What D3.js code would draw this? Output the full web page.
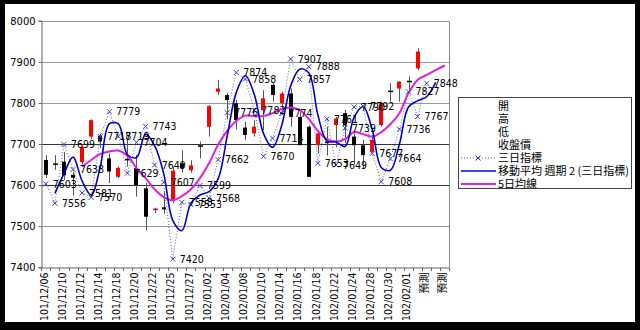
<!DOCTYPE html>
<html><head><meta charset="utf-8">
<script src="https://cdn.jsdelivr.net/npm/d3@7/dist/d3.min.js"></script>
<style>
body{margin:0;background:#000;}
svg{display:block}
</style></head><body>
<svg id="c" width="640" height="330"></svg>
<script>
const categories = ["101/12/06","101/12/07","101/12/10","101/12/11","101/12/12","101/12/13","101/12/14","101/12/17","101/12/18","101/12/19","101/12/20","101/12/21","101/12/22","101/12/24","101/12/25","101/12/26","101/12/27","101/12/28","102/01/02","102/01/03","102/01/04","102/01/07","102/01/08","102/01/09","102/01/10","102/01/11","102/01/14","102/01/15","102/01/16","102/01/17","102/01/18","102/01/21","102/01/22","102/01/23","102/01/24","102/01/25","102/01/28","102/01/29","102/01/30","102/01/31","102/02/01","102/02/04","預測","預測","預測"];
const yTicks = [7400,7500,7600,7700,7800,7900,8000];
const openV  = [7661,7651,7657,7625,7656,7718,7720,7665,7620,7662,7641,7592,7538,7546,7563,7653,7636,7695,7742,7827,7819,7799,7740,7726,7782,7844,7799,7823,7766,7742,7697,7706,7746,7775,7718,7697,7681,7746,7828,7835,7852,7884];
const highV  = [7673,7673,7681,7632,7695,7760,7725,7677,7645,7710,7673,7605,7545,7585,7645,7685,7660,7706,7795,7856,7823,7807,7754,7758,7831,7848,7827,7835,7779,7745,7734,7742,7766,7783,7726,7710,7722,7803,7848,7852,7864,7933];
const lowV   = [7617,7637,7612,7575,7650,7712,7690,7605,7617,7645,7572,7490,7532,7530,7556,7630,7630,7665,7718,7819,7760,7735,7709,7718,7734,7803,7783,7742,7697,7620,7677,7672,7692,7702,7650,7640,7680,7742,7803,7803,7827,7880];
const closeV = [7625,7648,7624,7618,7693,7758,7706,7633,7642,7660,7600,7523,7541,7541,7635,7641,7648,7693,7792,7835,7807,7758,7722,7742,7811,7819,7823,7766,7697,7620,7726,7702,7762,7745,7697,7673,7710,7799,7826,7852,7849,7925];
const index3 = [7603,7556,7699,7638,7581,7570,7718,7779,7719,7629,7704,7743,7649,7607,7420,7558,7553,7599,7568,7662,7776,7874,7858,7782,7670,7714,7774,7907,7857,7888,7653,7761,7649,7739,7790,7792,7677,7608,7664,7736,7827,7767,7848];
const ma2 = [null,7580,7628,7668,7610,7576,7644,7749,7749,7674,7667,7724,7696,7628,7514,7489,7556,7576,7584,7615,7719,7825,7866,7820,7726,7692,7744,7841,7882,7873,7771,7707,7705,7694,7765,7791,7735,7643,7636,7700,7790,7805,7815,7850];
const ma5 = [null,null,null,null,7645,7661,7676,7682,7684,7671,7642,7617,7590,7571,7563,7573,7590,7617,7653,7698,7732,7756,7769,7768,7768,7775,7785,7789,7783,7761,7732,7712,7706,7712,7729,7724,7718,7729,7748,7775,7824,7856,7868,7880,7891];
const legendNames = ["開","高","低","收盤價","三日指標","移動平均 週期 2 (三日指標)","5日均線"];

const svg = d3.select("#c");
svg.append("rect").attr("x",5).attr("y",4).attr("width",630).attr("height",318).attr("fill","#fff");

const x = d3.scaleBand().domain(d3.range(categories.length)).range([41.3,449.3]).padding(0);
const y = d3.scaleLinear().domain([7400,8000]).range([267.3,20.7]);
const cx = i => x(i) + x.bandwidth()/2;
const numFont = "'Liberation Sans Narrow','Arial Narrow','DejaVu Sans Condensed',sans-serif";
const cjkFont = "'Noto Sans CJK TC','Noto Sans CJK SC',sans-serif";

// gridlines
svg.append("g").selectAll("line").data(yTicks.filter(d=>d>7400)).join("line")
  .attr("x1",41.3).attr("x2",449.3).attr("y1",d=>Math.round(y(d))+0.5).attr("y2",d=>Math.round(y(d))+0.5)
  .attr("stroke",d=>(d===7600||d===7700)?"#333":"#999").attr("stroke-width",1);
// right border
svg.append("line").attr("x1",449.5).attr("x2",449.5).attr("y1",Math.round(y(8000))+0.5).attr("y2",267.5).attr("stroke","#888");

// y axis
const ya = svg.append("g").attr("transform","translate(41.5,0)")
  .call(d3.axisLeft(y).tickValues(yTicks).tickSize(3).tickPadding(4).tickFormat(d3.format("d")));
ya.select(".domain").attr("stroke","#666");
ya.selectAll(".tick line").attr("stroke","#666");
ya.selectAll("text").attr("font-family",numFont).attr("font-size",11).attr("fill","#000").attr("x",-6);

// x axis
const xa = svg.append("g").attr("transform","translate(0,267.5)")
  .call(d3.axisBottom(x).tickValues(d3.range(0,categories.length,2)).tickSize(0).tickFormat(i=>categories[i]));
xa.select(".domain").attr("stroke","#666");
xa.selectAll("text").attr("transform","rotate(-90)").attr("text-anchor","end")
  .attr("x",-5).attr("y",-2).attr("dy","0.35em").attr("font-size",10.5).attr("fill","#000")
  .attr("font-family",(d)=>categories[d]==="預測"?cjkFont:numFont);
// boundary tick marks
svg.append("g").selectAll("line").data(d3.range(categories.length+1)).join("line")
  .attr("x1",i=>Math.round(41.3+i*x.bandwidth())+0.5).attr("x2",i=>Math.round(41.3+i*x.bandwidth())+0.5)
  .attr("y1",267.5).attr("y2",271).attr("stroke","#666");

// candles
const cd = svg.append("g");
openV.forEach((o,i)=>{
  const c = closeV[i], h = highV[i], l = lowV[i];
  const xc = Math.round(cx(i))+0.5;
  const up = c>o;
  cd.append("line").attr("x1",xc).attr("x2",xc).attr("y1",y(h)).attr("y2",y(l)).attr("stroke","#555").attr("stroke-width",1);
  const top = y(Math.max(o,c)), bot = y(Math.min(o,c));
  if (bot-top < 1.5) {
    cd.append("line").attr("x1",xc-2.5).attr("x2",xc+2.5).attr("y1",top).attr("y2",top).attr("stroke",up?"#f00":"#000").attr("stroke-width",1.5);
  } else {
    cd.append("rect").attr("x",xc-2.5).attr("width",4).attr("y",top).attr("height",bot-top).attr("fill",up?"#f00":"#000");
  }
});

// 5-day MA
svg.append("path").datum(ma5.map((v,i)=>[i,v]).filter(d=>d[1]!=null))
  .attr("d",d3.line().x(d=>cx(d[0])).y(d=>y(d[1])).curve(d3.curveCatmullRom))
  .attr("fill","none").attr("stroke","#e020e0").attr("stroke-width",2);

// three-day index dotted
const pts3 = index3.map((v,i)=>[i,v]);
svg.append("path").datum(pts3)
  .attr("d",d3.line().x(d=>cx(d[0])).y(d=>y(d[1])))
  .attr("fill","none").attr("stroke","#5a5ae0").attr("stroke-width",1).attr("stroke-dasharray","1,2");

// MA2 blue
svg.append("path").datum(ma2.map((v,i)=>[i,v]).filter(d=>d[1]!=null))
  .attr("d",d3.line().x(d=>cx(d[0])).y(d=>y(d[1])).curve(d3.curveCatmullRom))
  .attr("fill","none").attr("stroke","#0000d0").attr("stroke-width",1.6);

// markers
const mk = svg.append("g");
pts3.forEach(d=>{
  const px = cx(d[0]), py = y(d[1]);
  mk.append("path").attr("d",`M${px-2.5},${py-2.5}L${px+2.5},${py+2.5}M${px-2.5},${py+2.5}L${px+2.5},${py-2.5}`)
    .attr("stroke","#3a3ad0").attr("stroke-width",1);
});
// labels
svg.append("g").selectAll("text").data(pts3).join("text")
  .attr("x",d=>cx(d[0])+7).attr("y",d=>y(d[1])).attr("dy","0.35em")
  .attr("font-family",numFont).attr("font-size",10.5).attr("fill","#000")
  .text(d=>d[1]);

// legend
const lg = svg.append("g");
lg.append("rect").attr("x",458.5).attr("y",97.5).attr("width",173).attr("height",91).attr("fill","#fff").attr("stroke","#444");
legendNames.forEach((n,k)=>{
  const ly = 106 + k*13;
  lg.append("text").attr("x",498).attr("y",ly).attr("dy","0.35em").attr("font-family",cjkFont).attr("font-size",11).attr("fill","#000").text(n);
  if (k===4) {
    lg.append("line").attr("x1",461).attr("x2",496).attr("y1",ly).attr("y2",ly).attr("stroke","#5a5ae0").attr("stroke-dasharray","1,2");
    lg.append("path").attr("d",`M${478-2.5},${ly-2.5}L${478+2.5},${ly+2.5}M${478-2.5},${ly+2.5}L${478+2.5},${ly-2.5}`).attr("stroke","#3a3ad0");
  } else if (k===5) {
    lg.append("line").attr("x1",461).attr("x2",496).attr("y1",ly).attr("y2",ly).attr("stroke","#0000d0").attr("stroke-width",1.6);
  } else if (k===6) {
    lg.append("line").attr("x1",461).attr("x2",496).attr("y1",ly).attr("y2",ly).attr("stroke","#e020e0").attr("stroke-width",2);
  }
});
</script>
</body></html>
